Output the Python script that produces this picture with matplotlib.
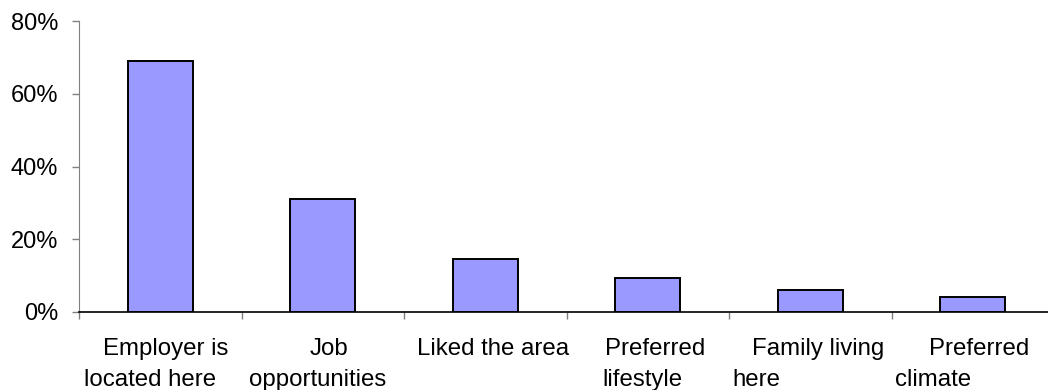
import numpy as np
import matplotlib.pyplot as plt
from matplotlib.ticker import PercentFormatter

plt.rcParams["font.family"] = ["Liberation Sans", "DejaVu Sans"]

# ---------------- DATA ----------------
reasons = ["Employer is\nlocated here", "Job\nopportunities", "Liked the area",
           "Preferred\nlifestyle", "Family living\nhere", "Preferred\nclimate"]
shares = [69.0, 31.1, 14.6, 9.3, 6.1, 4.1]
y_ticks = [0, 20, 40, 60, 80]

# per-line horizontal nudges (pixels) for the wrapped category labels
line_shift = [(5, -10), (6, -5), (8,), (7, -5), (8, -54), (6, -40)]

# ---------------- FIGURE ----------------
fig = plt.figure(figsize=(10.48, 3.9), dpi=100)
ax = fig.add_axes([79/1048, 78/390, 975/1048, 291/390])

x = np.arange(len(reasons))
ax.bar(x, shares, width=0.4, color="#9999FF", edgecolor="black", linewidth=1.4, zorder=3)

ax.set_xlim(-0.5, len(reasons) - 0.5)
ax.set_ylim(0, 80)
ax.set_yticks(y_ticks)
ax.yaxis.set_major_formatter(PercentFormatter(decimals=0))
ax.tick_params(axis="y", direction="out", length=5, width=1, color="#808080",
               labelsize=17, pad=10)

# ticks between categories on the x axis
ax.set_xticks(np.arange(len(reasons)) - 0.5)
ax.set_xticklabels([])
ax.tick_params(axis="x", direction="out", length=5, width=1, color="#808080")

for s in ["top", "right"]:
    ax.spines[s].set_visible(False)
ax.spines["left"].set_color("#808080")
ax.spines["bottom"].set_color("black")
ax.spines["bottom"].set_linewidth(1.2)

# wrapped category labels, one text per line
for i, label in enumerate(reasons):
    for k, line in enumerate(label.split("\n")):
        ax.annotate(line, xy=(i, 0), xycoords=("data", "axes fraction"),
                    xytext=(line_shift[i][k], -43 - 31*k), textcoords="offset pixels",
                    ha="center", va="baseline", fontsize=17.3, annotation_clip=False)

fig.savefig("out.png", dpi=100)
